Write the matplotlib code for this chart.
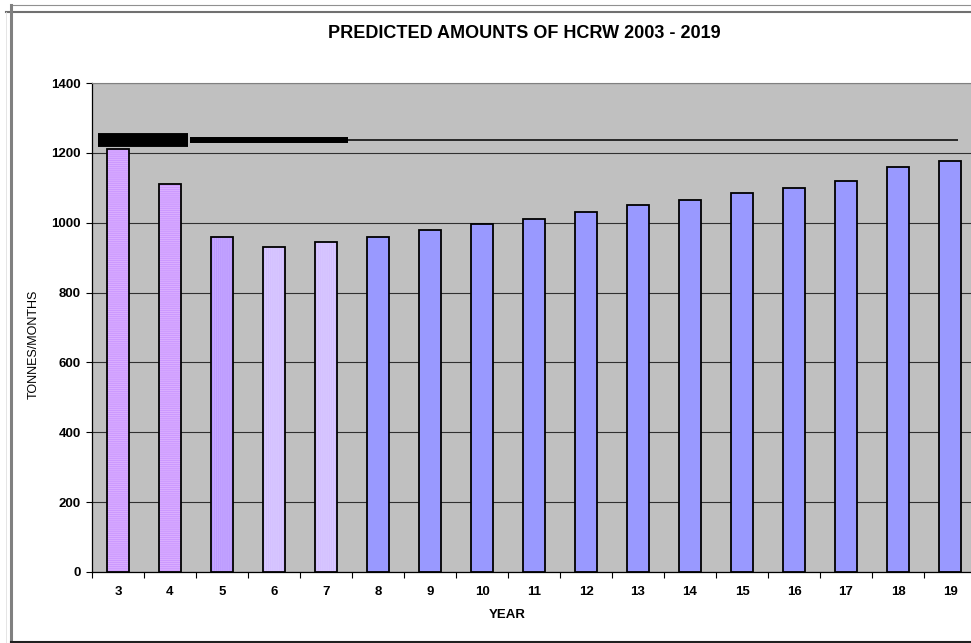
import matplotlib
matplotlib.use('Agg')
import matplotlib.pyplot as plt
from matplotlib.lines import Line2D

plt.rcParams['font.family'] = ['Liberation Sans', 'DejaVu Sans']
plt.rcParams['hatch.linewidth'] = 0.6

# data
years = ['3', '4', '5', '6', '7', '8', '9', '10', '11', '12', '13', '14', '15', '16', '17', '18', '19']
tonnes = [1210, 1110, 960, 930, 945, 960, 980, 995, 1010, 1030, 1050, 1065, 1085, 1100, 1120, 1160, 1178]
bar_colors = ['#CC99FF', '#CC99FF', '#BB99FF', '#D2BEFF', '#D2BEFF'] + ['#9999FF'] * 12
stripe_colors = ['#DDB3FF', '#DDB3FF', '#C8AAFF', '#DCCCFF', '#DCCCFF'] + [None] * 12
stripes = ['--------', '--------', '||||||||', '||||||||', '||||||||'] + [''] * 12

# the black line across the top (drawn in three thicknesses)
line_level = 1237
line_x_start = [-0.39, 1.39, 4.42]
line_x_end = [1.35, 4.42, 16.15]
line_widths = [10, 4.3, 1.1]

fig = plt.figure(figsize=(9.71, 6.43), dpi=100)
ax = fig.add_axes([92 / 971, 1 - 572 / 643, 884 / 971, (572 - 83) / 643])
ax.set_facecolor('#C0C0C0')

x = list(range(len(years)))
w = 0.42
ax.bar(x, tonnes, width=w, color=bar_colors, linewidth=0, zorder=3)
for i in x:
    if stripes[i]:
        ax.bar(i, tonnes[i], width=w, facecolor='none', edgecolor=stripe_colors[i],
               hatch=stripes[i], linewidth=0, zorder=4)
ax.bar(x, tonnes, width=w, facecolor='none', edgecolor='black', linewidth=1.3, zorder=5)

for xs, xe, lw in zip(line_x_start, line_x_end, line_widths):
    ax.plot([xs, xe], [line_level, line_level], color='black', lw=lw,
            solid_capstyle='butt', zorder=6)

ax.set_xlim(-0.5, len(years) - 0.5)
ax.set_ylim(0, 1400)
ax.set_yticks(range(0, 1401, 200))
ax.yaxis.grid(True, color='#303030', linewidth=0.8, zorder=1)
ax.set_axisbelow(True)

ax.set_xticks(x)
ax.set_xticklabels(years, fontsize=9.5, fontweight='bold')
ax.set_xticks([i - 0.5 for i in range(len(years) + 1)], minor=True)
ax.tick_params(axis='x', which='major', length=0, pad=10)
ax.tick_params(axis='x', which='minor', length=4, width=0.8, direction='out')
ax.tick_params(axis='y', length=4, width=0.8, pad=4, labelsize=9.5)
for lab in ax.get_yticklabels():
    lab.set_fontweight('bold')

for s in ['left', 'bottom']:
    ax.spines[s].set_color('black')
    ax.spines[s].set_linewidth(0.9)
ax.spines['top'].set_color('#808080')
ax.spines['top'].set_linewidth(0.8)
ax.spines['right'].set_visible(False)

fig.text(524 / 971, 1 - 33 / 643, 'PREDICTED AMOUNTS OF HCRW 2003 - 2019',
         ha='center', va='center', fontsize=13, fontweight='bold')
fig.text(507 / 971, 1 - 615 / 643, 'YEAR', ha='center', va='center',
         fontsize=9.5, fontweight='bold')
fig.text(34 / 971, 1 - 344 / 643, 'TONNES/MONTHS', ha='center', va='center',
         rotation=90, fontsize=9)

# chart frame
def fline(x0, y0, x1, y1, color, lw):
    fig.add_artist(Line2D([x0 / 971, x1 / 971], [1 - y0 / 643, 1 - y1 / 643],
                          color=color, lw=lw, transform=fig.transFigure))

fline(11, 5, 971, 5, '#909090', 0.8)
fline(6, 12, 971, 12, '#707070', 1.5)
fline(11, 5, 11, 643, '#808080', 2.2)
fline(6, 12, 6, 643, '#E0E0E0', 0.6)
fline(11, 642, 971, 642, '#202020', 1.5)

fig.savefig('out.png', dpi=100)
